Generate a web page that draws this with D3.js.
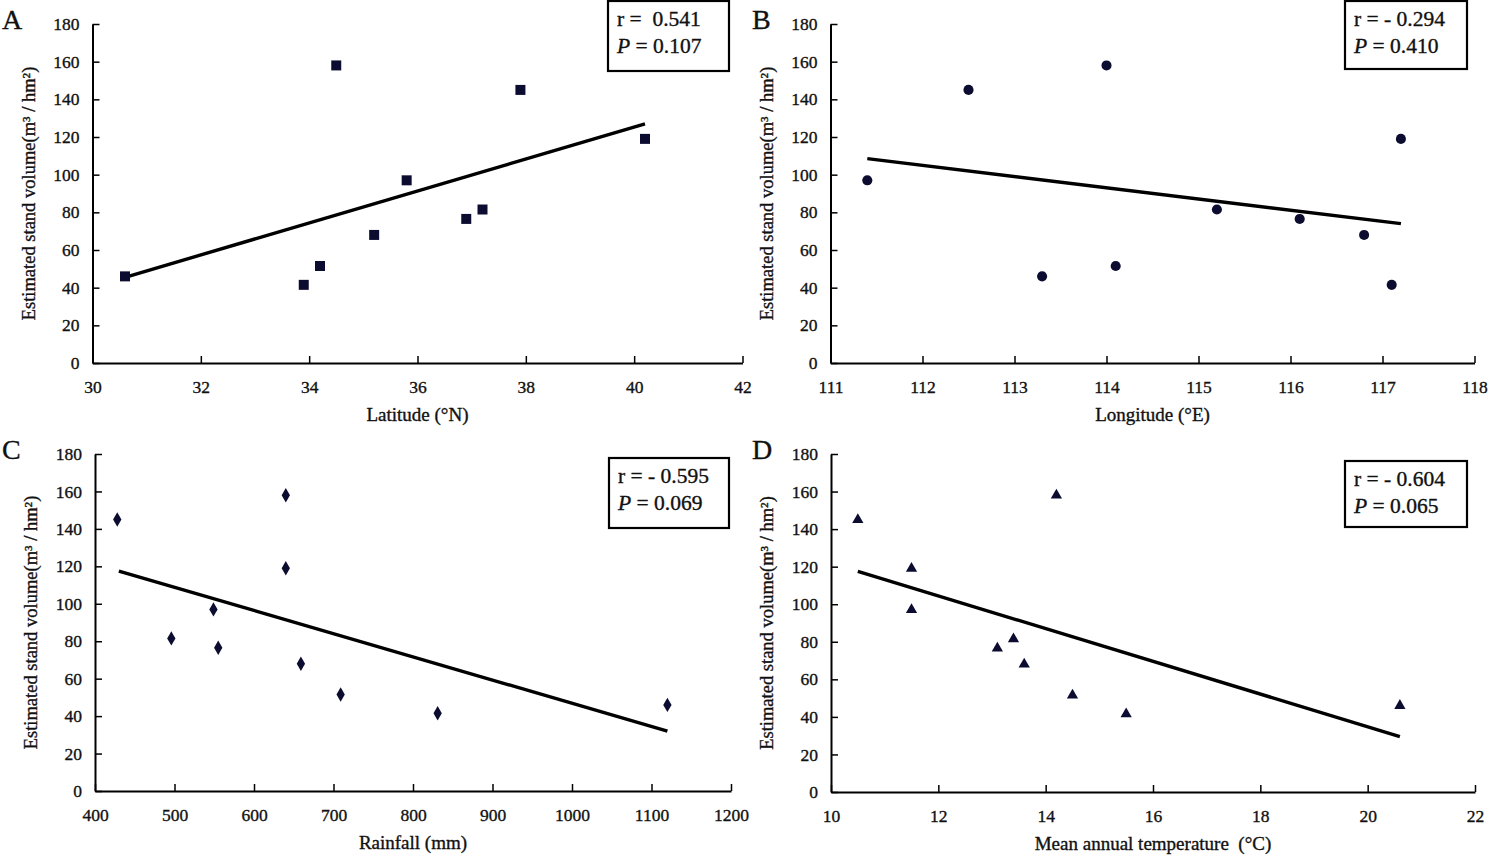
<!DOCTYPE html>
<meta charset="utf-8">
<script src="https://d3js.org/d3.v7.js"></script>
<style>
  body { margin: 0; background: #fff; }
  text { font-family: "Liberation Serif", "Times New Roman", serif; fill: #111; stroke: #111; stroke-width: 0.35px; }
</style>
<div id="chart"></div>
<script>
// stand volume per site (m3/hm2), same site order in every x array below
const volume = [158, 145, 119, 97, 81.5, 76.5, 68, 51.5, 46, 41.5];
const latitude = [34.5, 37.9, 40.2, 35.8, 37.2, 36.9, 35.2, 34.2, 30.6, 33.9];
const longitude = [114.0, 112.5, 117.2, 111.4, 115.2, 116.1, 116.8, 114.1, 113.3, 117.1];
const rainfall = [640, 428, 640, 549, 496, 555, 659, 709, 1120, 831];
const temperature = [14.2, 10.5, 11.5, 11.5, 13.4, 13.1, 13.6, 14.5, 20.6, 15.5];

// regression lines: [x, volume] at each end
const fitA = [[30.6, 45.5], [40.2, 127]];
const fitB = [[111.4, 108.5], [117.2, 74]];
const fitC = [[430, 117.5], [1120, 32]];
const fitD = [[10.5, 117.5], [20.6, 29.5]];

const statsA = ["r =  0.541", "0.107"];
const statsB = ["r = - 0.294", "0.410"];
const statsC = ["r = - 0.595", "0.069"];
const statsD = ["r = - 0.604", "0.065"];

const yTicks = [0, 20, 40, 60, 80, 100, 120, 140, 160, 180];
const ticksA = [30, 32, 34, 36, 38, 40, 42];
const ticksB = [111, 112, 113, 114, 115, 116, 117, 118];
const ticksC = [400, 500, 600, 700, 800, 900, 1000, 1100, 1200];
const ticksD = [10, 12, 14, 16, 18, 20, 22];

const W = 1489, H = 856;
const ink = "#0c0c30";

const svg = d3.select("#chart").append("svg")
  .attr("width", W).attr("height", H);

const panels = [
  {letter: "A", lx: 2, ly: 29, xs: latitude, fit: fitA, stats: statsA, ticks: ticksA,
   xr: [92.5, 742.5], yr: [363, 24], box: [608, 1, 121, 70],
   title: "Latitude (°N)", sym: d3.symbolSquare, size: 100},
  {letter: "B", lx: 752, ly: 29, xs: longitude, fit: fitB, stats: statsB, ticks: ticksB,
   xr: [830.5, 1474.5], yr: [363, 24], box: [1345, 1, 122, 68],
   title: "Longitude (°E)", sym: d3.symbolCircle, size: 80},
  {letter: "C", lx: 2, ly: 459, xs: rainfall, fit: fitC, stats: statsC, ticks: ticksC,
   xr: [95, 731], yr: [791, 454], box: [609, 458, 120, 70],
   title: "Rainfall (mm)", sym: d3.symbolDiamond, size: 60},
  {letter: "D", lx: 752, ly: 459, xs: temperature, fit: fitD, stats: statsD, ticks: ticksD,
   xr: [831, 1475], yr: [792, 454], box: [1345, 461, 122, 66],
   title: "Mean annual temperature  (°C)", sym: d3.symbolTriangle, size: 55}
];

panels.forEach(function(p) {
  const g = svg.append("g");
  const x = d3.scaleLinear()
    .domain([p.ticks[0], p.ticks[p.ticks.length - 1]])
    .range(p.xr);
  const y = d3.scaleLinear().domain([0, 180]).range(p.yr);

  // axes, ticks pointing inwards
  const xAxis = d3.axisBottom(x).tickValues(p.ticks)
    .tickSizeInner(-7).tickSizeOuter(0).tickPadding(18).tickFormat(d3.format("d"));
  const yAxis = d3.axisLeft(y).tickValues(yTicks)
    .tickSizeInner(-7).tickSizeOuter(0).tickPadding(13);

  const gx = g.append("g").attr("transform", `translate(0,${p.yr[0]})`).call(xAxis);
  const gy = g.append("g").attr("transform", `translate(${p.xr[0]},0)`).call(yAxis);
  [gx, gy].forEach(function(a) {
    a.select(".domain").attr("stroke", "#000").attr("stroke-width", 2);
    a.selectAll(".tick line").attr("stroke", "#000").attr("stroke-width", 1.5);
    a.selectAll(".tick text").attr("font-size", 17.5)
      .attr("font-family", "Liberation Serif").attr("fill", "#111");
  });

  // axis titles
  g.append("text")
    .attr("x", (p.xr[0] + p.xr[1]) / 2).attr("y", p.yr[0] + 58)
    .attr("text-anchor", "middle").attr("font-size", 19)
    .style("white-space", "pre")
    .text(p.title);

  g.append("text")
    .attr("transform", `translate(${p.xr[0] - 58},${(p.yr[0] + p.yr[1]) / 2}) rotate(-90)`)
    .attr("text-anchor", "middle").attr("font-size", 18.5)
    .text("Estimated stand volume(m³ / hm²)");

  // panel letter
  g.append("text").attr("x", p.lx).attr("y", p.ly)
    .attr("font-size", 28).text(p.letter);

  // regression line
  g.append("path")
    .datum(p.fit)
    .attr("d", d3.line().x(d => x(d[0])).y(d => y(d[1])))
    .attr("fill", "none").attr("stroke", "#000").attr("stroke-width", 3.4);

  // points
  g.append("g").selectAll("path")
    .data(volume.map((v, i) => [p.xs[i], v]))
    .enter().append("path")
    .attr("transform", d => `translate(${x(d[0])},${y(d[1])})`)
    .attr("d", d3.symbol().type(p.sym).size(p.size))
    .attr("fill", ink);

  // stats box
  const b = p.box;
  g.append("rect").attr("x", b[0]).attr("y", b[1])
    .attr("width", b[2]).attr("height", b[3])
    .attr("fill", "#fff").attr("stroke", "#000").attr("stroke-width", 2.2);
  g.append("text").attr("x", b[0] + 9).attr("y", b[1] + 25)
    .attr("font-size", 21.5).style("white-space", "pre")
    .text(p.stats[0]);
  const t2 = g.append("text").attr("x", b[0] + 9).attr("y", b[1] + 52)
    .attr("font-size", 21.5).style("white-space", "pre");
  t2.append("tspan").attr("font-style", "italic").text("P");
  t2.append("tspan").text(" = " + p.stats[1]);
});
</script>
